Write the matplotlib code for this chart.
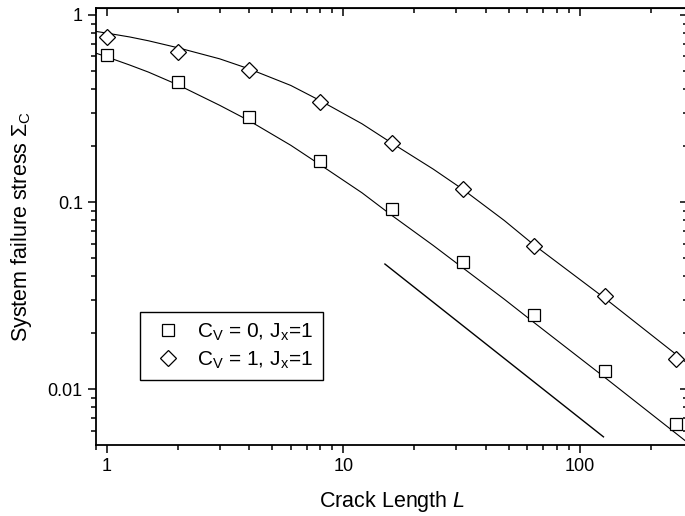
import matplotlib
matplotlib.use("Agg")
import matplotlib.pyplot as plt
import matplotlib.ticker as mticker

plt.rcParams['font.family'] = ['Liberation Sans', 'DejaVu Sans']
plt.rcParams['mathtext.fontset'] = 'custom'
plt.rcParams['mathtext.rm'] = 'Liberation Sans'
plt.rcParams['mathtext.it'] = 'Liberation Sans:italic'

# simulation points
crack_len = [1, 2, 4, 8, 16, 32, 64, 128, 256]
stress_cv0 = [0.61, 0.438, 0.285, 0.166, 0.092, 0.0478, 0.0249, 0.0125, 0.0065]
stress_cv1 = [0.76, 0.637, 0.508, 0.343, 0.207, 0.117, 0.0585, 0.0315, 0.0145]

# fitted curves
fit_len = [0.9, 1, 1.25, 1.5, 2, 3, 4, 6, 8, 12, 16, 24, 32, 48, 64, 128, 290]
fit_cv0 = [0.625, 0.597, 0.54, 0.495, 0.423, 0.329, 0.272, 0.201, 0.158, 0.112,
           0.085, 0.0586, 0.0445, 0.0302, 0.0227, 0.0115, 0.0051]
fit_cv1 = [0.817, 0.80, 0.763, 0.728, 0.668, 0.583, 0.515, 0.420, 0.348, 0.262,
           0.207, 0.150, 0.117, 0.0796, 0.059, 0.0305, 0.0135]

# slope -1 guide line
guide_len = [15, 126]
guide_val = [0.0466, 0.00555]

x_ticks = [1, 10, 100]
x_ticklabels = ['1', '10', '100']
y_ticks = [0.01, 0.1, 1]
y_ticklabels = ['0.01', '0.1', '1']

fig = plt.figure(figsize=(6.85, 5.16), dpi=100)
ax = fig.add_axes([96 / 685, 71 / 516, 592 / 685, 437 / 516])

ax.plot(fit_len, fit_cv0, color='black', lw=0.8)
ax.plot(fit_len, fit_cv1, color='black', lw=0.8)
ax.plot(guide_len, guide_val, color='black', lw=1.0)
ax.plot(crack_len, stress_cv0, ls='none', marker='s', ms=8.8, mfc='white',
        mec='black', mew=0.9, label=r'C$_\mathrm{V}$ = 0, J$_\mathrm{x}$=1')
ax.plot(crack_len, stress_cv1, ls='none', marker='D', ms=8.3, mfc='white',
        mec='black', mew=0.9, label=r'C$_\mathrm{V}$ = 1, J$_\mathrm{x}$=1')

ax.set_xscale('log')
ax.set_yscale('log')
ax.set_xlim(0.9, 287)
ax.set_ylim(0.00502, 1.09)

ax.xaxis.set_major_locator(mticker.FixedLocator(x_ticks))
ax.xaxis.set_major_formatter(mticker.FixedFormatter(x_ticklabels))
ax.yaxis.set_major_locator(mticker.FixedLocator(y_ticks))
ax.yaxis.set_major_formatter(mticker.FixedFormatter(y_ticklabels))
ax.xaxis.set_minor_locator(mticker.LogLocator(subs=range(2, 10)))
ax.yaxis.set_minor_locator(mticker.LogLocator(subs=range(2, 10)))
ax.xaxis.set_minor_formatter(mticker.NullFormatter())
ax.yaxis.set_minor_formatter(mticker.NullFormatter())

ax.tick_params(which='major', direction='out', length=6, width=1.1, labelsize=13)
ax.tick_params(which='minor', direction='out', length=3.5, width=1.1)

# inward ticks on top and right
top = ax.secondary_xaxis('top')
top.xaxis.set_major_locator(mticker.FixedLocator(x_ticks))
top.xaxis.set_minor_locator(mticker.LogLocator(subs=range(2, 10)))
top.tick_params(which='both', direction='in', width=1.1, labeltop=False)
top.tick_params(which='major', length=6)
top.tick_params(which='minor', length=3.5)
right = ax.secondary_yaxis('right')
right.yaxis.set_major_locator(mticker.FixedLocator(y_ticks))
right.yaxis.set_minor_locator(mticker.LogLocator(subs=range(2, 10)))
right.tick_params(which='both', direction='in', width=1.1, labelright=False)
right.tick_params(which='major', length=6)
right.tick_params(which='minor', length=3.5)

for sp in ax.spines.values():
    sp.set_linewidth(1.3)

ax.set_xlabel(r'Crack Length $L$', fontsize=15.5, labelpad=10)
ax.set_ylabel(r'System failure stress Σ$_\mathrm{C}$', fontsize=15.5, labelpad=10)

leg = ax.legend(loc='lower left', bbox_to_anchor=(0.0745, 0.149), fontsize=15,
                frameon=True, fancybox=False, edgecolor='black', framealpha=1,
                handlelength=1.8, handletextpad=0.5, borderpad=0.45,
                labelspacing=0.3, borderaxespad=0)
leg.get_frame().set_linewidth(1.0)

fig.savefig('out.png', dpi=100)
